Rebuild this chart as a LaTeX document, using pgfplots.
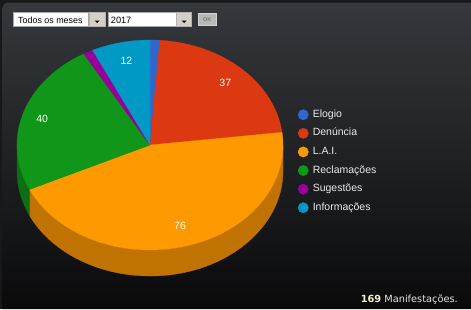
\documentclass[border=0pt]{standalone}
\usepackage{pgfplots}
\pgfplotsset{compat=1.18}
\usepackage{pgfplotstable}
\usepackage{fontspec}
\setmainfont{Liberation Sans}
\newfontfamily\dv{DejaVu Sans}
\definecolor{cE}{HTML}{3366CC}
\definecolor{cD}{HTML}{DC3912}
\definecolor{cL}{HTML}{FF9900}
\definecolor{cR}{HTML}{109618}
\definecolor{cS}{HTML}{990099}
\definecolor{cI}{HTML}{0099C6}
\definecolor{cLs}{HTML}{C07300}
\definecolor{cRs}{HTML}{0C7012}
\definecolor{bgtop}{HTML}{35383C}
\definecolor{bgbot}{HTML}{0A0A0B}
\definecolor{frame}{HTML}{17181A}
\definecolor{btn}{HTML}{D4D0C8}
\definecolor{legtext}{HTML}{EAEAEA}
\definecolor{yell}{HTML}{F4F0CC}
\begin{document}
\pgfplotstableread[col sep=comma]{
label,value
Elogio,2
Denúncia,37
L.A.I.,76
Reclamações,40
Sugestões,2
Informações,12
}\piedata
\begin{tikzpicture}
\pgfplotstablegetelem{0}{value}\of\piedata \let\vA\pgfplotsretval
\pgfplotstablegetelem{1}{value}\of\piedata \let\vB\pgfplotsretval
\pgfplotstablegetelem{2}{value}\of\piedata \let\vC\pgfplotsretval
\pgfplotstablegetelem{3}{value}\of\piedata \let\vD\pgfplotsretval
\pgfplotstablegetelem{4}{value}\of\piedata \let\vE\pgfplotsretval
\pgfplotstablegetelem{5}{value}\of\piedata \let\vF\pgfplotsretval
\pgfmathsetmacro\tot{\vA+\vB+\vC+\vD+\vE+\vF}
\pgfmathsetmacro\deg{360/\tot}
\pgfmathsetmacro\aA{90}
\pgfmathsetmacro\aB{\aA-\deg*\vA}
\pgfmathsetmacro\aC{\aB-\deg*\vB}
\pgfmathsetmacro\aD{\aC-\deg*\vC}
\pgfmathsetmacro\aE{\aD-\deg*\vD}
\pgfmathsetmacro\aF{\aE-\deg*\vE}
\pgfmathsetmacro\aG{\aF-\deg*\vF}
% centre, radii (axis units = pt)
\def\cx{150}\def\cy{164}\def\rx{133}\def\ry{105}
% label positions
\pgfmathsetmacro\lxB{\cx+0.82*\rx*cos((\aB+\aC)/2)}\pgfmathsetmacro\lyB{\cy+0.82*\ry*sin((\aB+\aC)/2)}
\pgfmathsetmacro\lxC{\cx+0.82*\rx*cos((\aC+\aD)/2)}\pgfmathsetmacro\lyC{\cy+0.80*\ry*sin((\aC+\aD)/2)}
\pgfmathsetmacro\lxD{\cx+0.85*\rx*cos((\aD+\aE)/2)}\pgfmathsetmacro\lyD{\cy+0.82*\ry*sin((\aD+\aE)/2)}
\pgfmathsetmacro\lxF{\cx+0.80*\rx*cos((\aF+\aG)/2)}\pgfmathsetmacro\lyF{\cy+0.82*\ry*sin((\aF+\aG)/2)}
\begin{axis}[
  set layers,
  scale only axis, width=471pt, height=309pt,
  xmin=0, xmax=471, ymin=0, ymax=309,
  hide axis, clip=false,
  legend style={at={(axis cs:297.7,199.8)}, anchor=north west, draw=none, fill=none,
    font=\fontsize{10.5}{12}\selectfont, text=legtext, inner sep=0pt, row sep=7.9pt,
    nodes={inner sep=0pt, text height=7.6pt, text depth=2.4pt}},
  legend cell align=left,
  legend image code/.code={\fill[#1] (0pt,0pt) circle (5.2pt); \path (9.4pt,0pt);},
]
\begin{pgfonlayer}{axis background}
\fill[frame] (axis cs:0,0) rectangle (axis cs:471,309);
\shade[top color=bgtop, bottom color=bgbot] (axis cs:2.5,0) [rounded corners=6pt] -- (axis cs:2.5,306.5) [sharp corners] -- (axis cs:471,306.5) -- (axis cs:471,0) -- cycle;
% controls
\draw[fill=white, draw=gray!70, line width=0.5pt] (axis cs:13.5,283) rectangle (axis cs:88.5,296.5);
\node[anchor=base west, inner sep=0pt, font=\fontsize{8.9}{10}\selectfont, text=black] at (axis cs:18,285.8) {Todos os meses};
\draw[fill=btn, draw=gray!60, line width=0.5pt] (axis cs:89.3,283) rectangle (axis cs:105,296.5);
\fill[black] (axis cs:94.5,288.5) -- (axis cs:99.5,288.5) -- (axis cs:97,286) -- cycle;
\draw[fill=white, draw=gray!70, line width=0.5pt] (axis cs:108.7,283) rectangle (axis cs:176,296.5);
\node[anchor=base west, inner sep=0pt, font=\fontsize{9.2}{10}\selectfont, text=black] at (axis cs:110.7,285.8) {2017};
\draw[fill=btn, draw=gray!60, line width=0.5pt] (axis cs:176.3,283) rectangle (axis cs:191.5,296.5);
\fill[black] (axis cs:181.5,288.5) -- (axis cs:186.5,288.5) -- (axis cs:184,286) -- cycle;
\draw[fill=gray!55, draw=gray!35, line width=0.6pt] (axis cs:198,283.5) rectangle (axis cs:216.5,295.7);
\node[inner sep=0pt, font=\bfseries\fontsize{5.5}{6}\selectfont, text=gray!95!black] at (axis cs:207.3,289.6) {OK};
\end{pgfonlayer}
% side walls
\addplot[forget plot, fill=cLs, draw=cLs, line width=0.3pt, domain=\aD:0, samples=80, variable=\t]
  ({\cx+\rx*cos(\t)},{\cy+\ry*sin(\t)}) -- ++(0pt,-26pt) arc[start angle=0, end angle=\aD, x radius=133pt, y radius=105pt] -- cycle;
\addplot[forget plot, fill=cRs, draw=cRs, line width=0.3pt, domain=-180:\aD, samples=30, variable=\t]
  ({\cx+\rx*cos(\t)},{\cy+\ry*sin(\t)}) -- ++(0pt,-26pt) arc[start angle=\aD, end angle=-180, x radius=133pt, y radius=105pt] -- cycle;
% top faces
\addplot[fill=cE, draw=cE, line width=0.3pt, domain=\aB:\aA, samples=8, variable=\t]
  ({\cx+\rx*cos(\t)},{\cy+\ry*sin(\t)}) -- (axis cs:\cx,\cy) -- cycle;
\addlegendentry{Elogio}
\addplot[fill=cD, draw=cD, line width=0.3pt, domain=\aC:\aB, samples=50, variable=\t]
  ({\cx+\rx*cos(\t)},{\cy+\ry*sin(\t)}) -- (axis cs:\cx,\cy) -- cycle;
\addlegendentry{Denúncia}
\addplot[fill=cL, draw=cL, line width=0.3pt, domain=\aD:\aC, samples=100, variable=\t]
  ({\cx+\rx*cos(\t)},{\cy+\ry*sin(\t)}) -- (axis cs:\cx,\cy) -- cycle;
\addlegendentry{L.A.I.}
\addplot[fill=cR, draw=cR, line width=0.3pt, domain=\aE:\aD, samples=60, variable=\t]
  ({\cx+\rx*cos(\t)},{\cy+\ry*sin(\t)}) -- (axis cs:\cx,\cy) -- cycle;
\addlegendentry{Reclamações}
\addplot[fill=cS, draw=cS, line width=0.3pt, domain=\aF:\aE, samples=8, variable=\t]
  ({\cx+\rx*cos(\t)},{\cy+\ry*sin(\t)}) -- (axis cs:\cx,\cy) -- cycle;
\addlegendentry{Sugestões}
\addplot[fill=cI, draw=cI, line width=0.3pt, domain=\aG:\aF, samples=20, variable=\t]
  ({\cx+\rx*cos(\t)},{\cy+\ry*sin(\t)}) -- (axis cs:\cx,\cy) -- cycle;
\addlegendentry{Informações}
% value labels
\node[text=white, inner sep=0pt, font=\fontsize{10.5}{12}\selectfont] at (axis cs:\lxB,\lyB) {\vB};
\node[text=white, inner sep=0pt, font=\fontsize{10.5}{12}\selectfont] at (axis cs:\lxC,\lyC) {\vC};
\node[text=white, inner sep=0pt, font=\fontsize{10.5}{12}\selectfont] at (axis cs:\lxD,\lyD) {\vD};
\node[text=white, inner sep=0pt, font=\fontsize{10.5}{12}\selectfont] at (axis cs:\lxF,\lyF) {\vF};
% footer
\node[anchor=base east, inner sep=0pt, font=\dv\fontsize{9.8}{11}\selectfont] at (axis cs:458,6.3)
  {\textcolor{yell}{\bfseries 169} \textcolor{gray!20}{Manifestações.}};
\end{axis}
\end{tikzpicture}
\end{document}
